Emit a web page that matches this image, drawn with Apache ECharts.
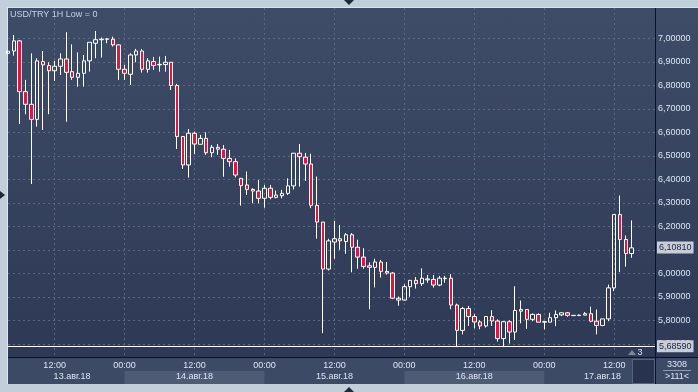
<!DOCTYPE html>
<html><head><meta charset="utf-8">
<script src="https://cdn.jsdelivr.net/npm/echarts@6/dist/echarts.min.js"></script>
<style>
html,body{margin:0;padding:0;width:698px;height:392px;overflow:hidden;background:#c3cedb;}
.p{position:absolute;}
#main{position:absolute;left:0;top:0;width:698px;height:392px;}
</style></head><body>
<div class="p" style="left:7px;top:7px;width:691px;height:377px;background:#dde4ec"></div>
<div class="p" style="left:8px;top:8px;width:690px;height:349px;background:linear-gradient(#3f4c68,#2d3955)"></div>
<div class="p" style="left:8px;top:358px;width:690px;height:26px;background:#3d4a65"></div>
<div class="p" style="left:8px;top:357px;width:690px;height:1px;background:#0b1220"></div>
<div class="p" style="left:655px;top:8px;width:1px;height:376px;background:#0b1220"></div>
<div class="p" style="left:632px;top:359px;width:21px;height:23px;background:#28344f;border:1px solid #56637c"></div>
<div class="p" style="left:344px;top:0;width:0;height:0;border-left:5px solid transparent;border-right:5px solid transparent;border-top:5px solid #1f2838"></div>
<div class="p" style="left:344px;top:387px;width:0;height:0;border-left:5px solid transparent;border-right:5px solid transparent;border-bottom:5px solid #1f2838"></div>
<div class="p" style="left:0;top:191px;width:0;height:0;border-top:4px solid transparent;border-bottom:4px solid transparent;border-left:5px solid #1f2838"></div>
<div id="main"></div>
<script>
// ---- data (USD/TRY, 1H candles, from 13 Aug 2018 04:00) ----
const opens = [6.936,6.946,6.989,6.773,6.719,6.655,6.901,6.884,6.862,6.881,6.912,6.858,6.834,6.851,6.904,6.979,6.994,6.996,
6.996,6.972,6.868,6.847,6.929,6.946,6.868,6.901,6.887,6.888,6.898,6.799,6.582,6.461,6.596,6.549,6.574,6.513,6.536,6.528,
6.489,6.475,6.404,6.376,6.357,6.350,6.319,6.362,6.323,6.330,6.340,6.372,6.511,6.494,6.465,6.289,6.218,6.018,6.133,6.147,
6.135,6.164,6.111,6.069,6.032,6.025,6.048,6.008,6.001,5.894,5.886,5.943,5.970,5.956,5.972,5.974,5.950,5.977,5.979,5.865,
5.757,5.850,5.816,5.793,5.776,5.816,5.797,5.722,5.794,5.750,5.839,5.846,5.804,5.825,5.792,5.792,5.811,5.823,5.832,5.821,
5.820,5.822,5.828,5.796,5.778,5.806,5.938,6.250,6.144,6.084];
const closes = [6.945,6.989,6.773,6.719,6.655,6.904,6.887,6.862,6.881,6.912,6.855,6.834,6.851,6.904,6.983,6.994,6.996,6.997,
6.972,6.868,6.851,6.929,6.946,6.868,6.904,6.884,6.889,6.898,6.799,6.582,6.461,6.596,6.550,6.574,6.513,6.536,6.528,6.489,
6.475,6.418,6.373,6.357,6.350,6.319,6.362,6.323,6.333,6.340,6.372,6.511,6.496,6.465,6.289,6.218,6.018,6.138,6.147,6.138,
6.164,6.111,6.069,6.029,6.025,6.048,6.008,6.001,5.894,5.886,5.943,5.970,5.956,5.979,5.976,5.950,5.979,5.979,5.865,5.757,
5.850,5.816,5.793,5.776,5.816,5.797,5.722,5.794,5.750,5.842,5.846,5.804,5.825,5.792,5.794,5.811,5.825,5.832,5.821,5.820,
5.822,5.828,5.796,5.778,5.806,5.938,6.250,6.144,6.084,6.1081];
const lows = [6.933,6.926,6.635,6.677,6.380,6.624,6.610,6.677,6.818,6.844,6.645,6.823,6.794,6.794,6.858,6.915,6.918,6.979,
6.965,6.823,6.823,6.801,6.898,6.854,6.854,6.865,6.858,6.858,6.780,6.529,6.444,6.407,6.508,6.549,6.504,6.494,6.504,6.411,
6.454,6.408,6.288,6.333,6.298,6.298,6.279,6.315,6.319,6.319,6.333,6.357,6.369,6.393,6.277,6.147,5.745,6.012,6.062,6.100,
6.083,6.004,6.019,6.019,5.847,5.940,5.982,5.994,5.890,5.862,5.884,5.900,5.935,5.946,5.960,5.939,5.945,5.960,5.847,5.6859,
5.740,5.776,5.766,5.762,5.769,5.776,5.709,5.686,5.701,5.716,5.787,5.764,5.796,5.792,5.761,5.792,5.775,5.818,5.815,5.818,
5.818,5.821,5.792,5.740,5.775,5.796,5.924,6.005,6.028,6.066];
const highs = [6.948,7.014,6.992,6.823,6.936,6.915,6.946,6.898,6.904,6.936,7.026,6.974,6.940,6.929,6.983,7.031,7.003,7.000,
7.007,6.972,6.887,6.936,6.955,6.955,6.915,6.921,6.922,6.925,6.898,6.806,6.582,6.614,6.603,6.589,6.600,6.546,6.550,6.546,
6.525,6.489,6.404,6.433,6.362,6.397,6.376,6.376,6.352,6.355,6.404,6.511,6.550,6.512,6.509,6.412,6.218,6.147,6.223,6.206,
6.171,6.171,6.143,6.107,6.046,6.062,6.057,6.048,6.005,5.901,5.953,5.970,5.984,6.021,5.993,5.993,5.989,5.989,5.996,5.871,
5.857,5.861,5.826,5.800,5.818,5.843,5.804,5.797,5.800,5.945,5.884,5.846,5.829,5.829,5.796,5.832,5.842,5.832,5.835,5.823,
5.824,5.835,5.858,5.846,5.806,5.952,6.250,6.331,6.161,6.225];
const startTime = Date.UTC(2018, 7, 13, 4);   // first hourly slot
const slotCount = 112;                        // visible hourly slots (incl. empty right margin)
const yTicks = [5.7,5.8,5.9,6.0,6.1,6.2,6.3,6.4,6.5,6.6,6.7,6.8,6.9,7.0];
const dateLabelAt = ['08-13 15:00','08-14 12:00','08-15 12:00','08-16 12:00','08-17 10:00'];
const dateLabels = ['13.авг.18','14.авг.18','15.авг.18','16.авг.18','17.авг.18'];
const bandRanges = [['08-14 00:00','08-15 00:00'],['08-16 00:00','08-17 00:00']];
const lowLevel = 5.6859;
const lastPrice = 6.1081;
const yMin = 5.6438, yMax = 7.1289;

const pad = n => String(n).padStart(2,'0');
const categories = [];
for (let i = 0; i < slotCount; i++) {
  const d = new Date(startTime + i * 3600000);
  categories.push(pad(d.getUTCMonth()+1) + '-' + pad(d.getUTCDate()) + ' ' + pad(d.getUTCHours()) + ':00');
}
const candles = opens.map((o, i) => [o, closes[i], lows[i], highs[i]]);

const FONT = 'Liberation Sans';
const LC = '#dbe5f5';
const GRID = '#5a6885';
const isTick = i => { const h = categories[i].slice(-5); return h === '00:00' || h === '12:00'; };
const fmtP = v => v.toFixed(5).replace('.', ',');

const chart = echarts.init(document.getElementById('main'));
chart.setOption({
  animation: false,
  backgroundColor: 'transparent',
  grid: { left: 8, right: 43, top: 8, bottom: 35 },
  xAxis: [{
    type: 'category', data: categories, boundaryGap: false,
    axisLine: { show: false }, axisTick: { show: false },
    axisLabel: { interval: i => isTick(i), formatter: v => v.slice(-5), color: LC, fontFamily: FONT, fontSize: 9, margin: 4 },
    splitLine: { show: true, interval: i => isTick(i), lineStyle: { color: GRID, type: [2, 3], width: 1 } }
  }, {
    type: 'category', data: categories, boundaryGap: false, position: 'bottom', offset: 11,
    axisLine: { show: false }, axisTick: { show: false }, splitLine: { show: false },
    axisLabel: { interval: i => dateLabelAt.includes(categories[i]), formatter: v => dateLabels[dateLabelAt.indexOf(v)] || '',
      color: LC, fontFamily: FONT, fontSize: 9, margin: 4 }
  }],
  yAxis: {
    type: 'value', position: 'right', min: yMin, max: yMax, splitNumber: 15,
    axisLine: { show: false }, axisTick: { show: false, customValues: yTicks },
    axisLabel: { customValues: yTicks, formatter: fmtP, color: LC, fontFamily: FONT, fontSize: 9, margin: 3 },
    splitLine: { show: true, lineStyle: { color: GRID, type: [2, 3], width: 1 } }
  },
  series: [{
    type: 'candlestick', data: candles, barWidth: 4,
    itemStyle: { color: 'rgba(0,0,0,0)', color0: '#e8123c', borderColor: '#ffffff', borderColor0: '#ffffff', borderColorDoji: '#ffffff', borderWidth: 1 },
    markLine: {
      symbol: 'none', silent: true, animation: false,
      label: { show: true, position: 'end', distance: 2, backgroundColor: '#c9ced6', color: '#15254a', padding: [2, 2, 1, 2], fontFamily: FONT, fontSize: 9 },
      data: [
        { yAxis: lowLevel, lineStyle: { color: '#ffffff', width: 1, type: 'solid' }, label: { formatter: fmtP(lowLevel) } },
        { yAxis: lastPrice, lineStyle: { color: 'rgba(0,0,0,0)', width: 1 }, label: { show: true, formatter: fmtP(lastPrice) } }
      ]
    }
  }]
});

const px = c => chart.convertToPixel({ xAxisIndex: 0 }, categories.indexOf(c));
const graphics = bandRanges.map(r => ({
  type: 'rect', z: -1, silent: true,
  shape: { x: px(r[0]), y: 371, width: px(r[1]) - px(r[0]), height: 13 },
  style: { fill: '#4e5b75' }
}));
graphics.push(
  { type: 'text', left: 10, top: 10, style: { text: 'USD/TRY 1H Low = 0', fill: '#c3d1e8', font: '9px "Liberation Sans"' } },
  { type: 'text', x: 677, y: 365, style: { text: '3308', fill: LC, font: '9px "Liberation Sans"', align: 'center', verticalAlign: 'middle' } },
  { type: 'line', shape: { x1: 663, y1: 370.5, x2: 691, y2: 370.5 }, style: { stroke: '#8d9ab0', lineWidth: 1 } },
  { type: 'text', x: 677, y: 377, style: { text: '>111<', fill: LC, font: '9px "Liberation Sans"', align: 'center', verticalAlign: 'middle' } },
  { type: 'polygon', shape: { points: [[628, 355], [632, 350], [636, 355]] }, style: { fill: '#7d889c' } },
  { type: 'text', x: 640, y: 352.5, style: { text: '3', fill: LC, font: '9px "Liberation Sans"', align: 'center', verticalAlign: 'middle' } }
);
chart.setOption({ graphic: graphics });
</script>
</body></html>
